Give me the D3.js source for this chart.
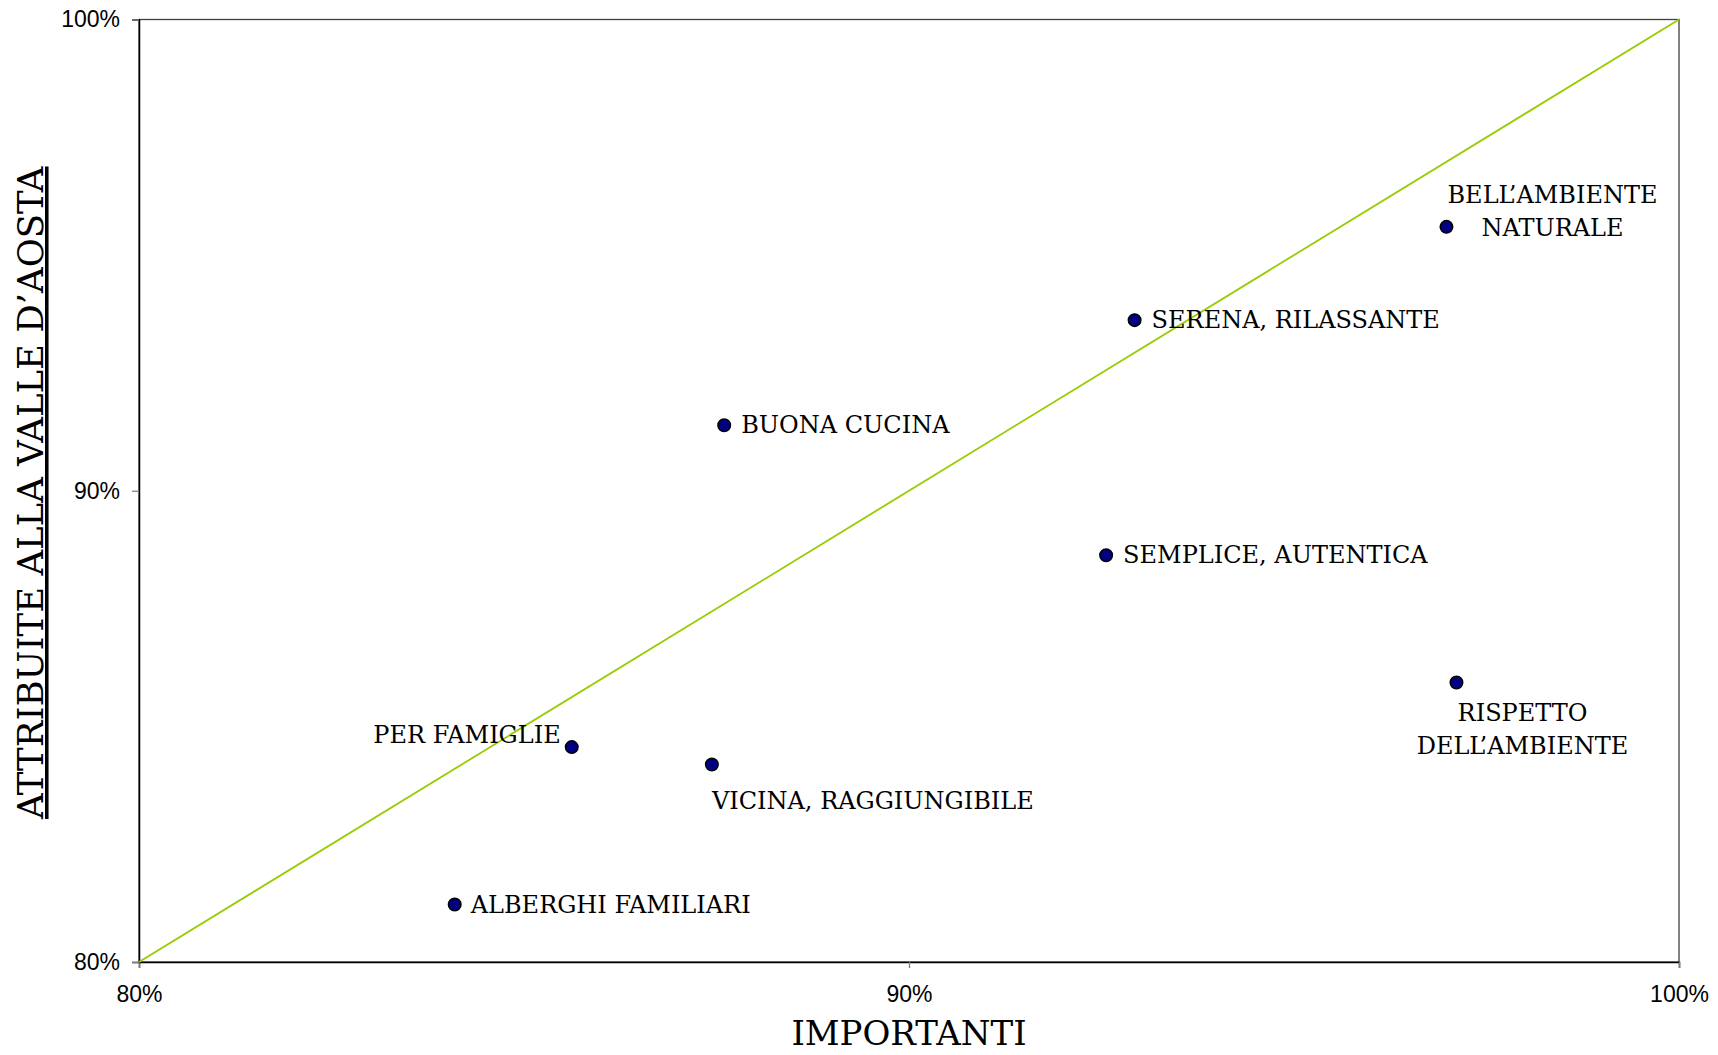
<!DOCTYPE html>
<html>
<head>
<meta charset="utf-8">
<script src="https://cdn.jsdelivr.net/npm/d3@7"></script>
<style>
  body { margin: 0; background: #fff; }
  .tick text { font-family: "Liberation Sans", Arial, sans-serif; font-size: 23px; fill: #000; }
  .lbl { font-family: "DejaVu Serif", serif; font-size: 24px; fill: #000; }
</style>
</head>
<body>
<script>
var width = 1718;
var height = 1055;
var margin = {top: 19.5, right: 39, bottom: 93, left: 139};
var w = width - margin.left - margin.right;
var h = height - margin.top - margin.bottom;

// values (percent)
var names = ["BELL\u2019AMBIENTE NATURALE", "SERENA, RILASSANTE", "BUONA CUCINA", "SEMPLICE, AUTENTICA",
             "RISPETTO DELL\u2019AMBIENTE", "PER FAMIGLIE", "VICINA, RAGGIUNGIBILE", "ALBERGHI FAMILIARI"];
var importanti = [96.98, 92.93, 87.60, 92.56, 97.11, 85.62, 87.44, 84.10];
var attribuite = [95.60, 93.62, 91.39, 88.63, 85.93, 84.56, 84.19, 81.22];
var xTicks = [80, 90, 100];
var yTicks = [80, 90, 100];
var diagonal = [80, 100];

// how each label sits next to its dot
var labelLines = [["BELL\u2019AMBIENTE", "NATURALE"], ["SERENA, RILASSANTE"], ["BUONA CUCINA"], ["SEMPLICE, AUTENTICA"],
                  ["RISPETTO", "DELL\u2019AMBIENTE"], ["PER FAMIGLIE"], ["VICINA, RAGGIUNGIBILE"], ["ALBERGHI FAMILIARI"]];
var labelPlace = [
  {dx: 106, dy: -24, anchor: "middle"},
  {dx: 17, dy: 8, anchor: "start"},
  {dx: 17, dy: 8, anchor: "start"},
  {dx: 17, dy: 8, anchor: "start"},
  {dx: 66, dy: 38, anchor: "middle"},
  {dx: -11, dy: -4, anchor: "end"},
  {dx: 0, dy: 44, anchor: "start"},
  {dx: 16, dy: 8, anchor: "start"}
];

var svg = d3.select("body").append("svg")
    .attr("width", width)
    .attr("height", height)
  .append("g")
    .attr("transform", "translate(" + margin.left + "," + margin.top + ")");

var x = d3.scaleLinear().domain([80, 100]).range([0, w]);
var y = d3.scaleLinear().domain([80, 100]).range([h, 0]);

// plot frame
svg.append("rect")
    .attr("width", w).attr("height", h)
    .attr("fill", "none")
    .attr("stroke", "#404040")
    .attr("stroke-width", 1.3);

var xAxis = d3.axisBottom(x).tickValues(xTicks).tickSize(6).tickPadding(18)
    .tickFormat(function(d) { return d + "%"; });
var yAxis = d3.axisLeft(y).tickValues(yTicks).tickSize(7).tickPadding(12)
    .tickFormat(function(d) { return d + "%"; });

var gx = svg.append("g").attr("transform", "translate(0," + h + ")").call(xAxis);
var gy = svg.append("g").call(yAxis);
[gx, gy].forEach(function(g) {
  g.select(".domain").attr("stroke", "#000").attr("stroke-width", 1.5);
  g.selectAll(".tick line").attr("stroke", "#808080").attr("stroke-width", 1.3);
  g.selectAll(".tick text").attr("font-family", null).attr("font-size", null);
});
gy.selectAll(".tick text").attr("dy", "0.32em");

// diagonal reference line
svg.append("line")
    .attr("x1", x(diagonal[0])).attr("y1", y(diagonal[0]))
    .attr("x2", x(diagonal[1])).attr("y2", y(diagonal[1]))
    .attr("stroke", "#99cc00")
    .attr("stroke-width", 1.8);

var pts = names.map(function(n, i) {
  return {name: n, x: importanti[i], y: attribuite[i], lines: labelLines[i], place: labelPlace[i]};
});

svg.selectAll("circle.pt")
    .data(pts)
  .enter().append("circle")
    .attr("class", "pt")
    .attr("cx", function(d) { return x(d.x); })
    .attr("cy", function(d) { return y(d.y); })
    .attr("r", 6.3)
    .attr("fill", "#000080")
    .attr("stroke", "#000")
    .attr("stroke-width", 1.4);

var lbl = svg.selectAll("text.lbl")
    .data(pts)
  .enter().append("text")
    .attr("class", "lbl")
    .attr("text-anchor", function(d) { return d.place.anchor; })
    .attr("transform", function(d) {
      return "translate(" + (x(d.x) + d.place.dx) + "," + (y(d.y) + d.place.dy) + ")";
    });

lbl.selectAll("tspan")
    .data(function(d) { return d.lines; })
  .enter().append("tspan")
    .attr("x", 0)
    .attr("y", function(d, i) { return i * 33.5; })
    .text(function(d) { return d; });

// axis titles
svg.append("text")
    .attr("x", w / 2)
    .attr("y", h + 83)
    .attr("text-anchor", "middle")
    .style("font-family", "DejaVu Serif, serif")
    .style("font-size", "34px")
    .text("IMPORTANTI");

svg.append("text")
    .attr("transform", "translate(" + (43 - margin.left) + "," + (h / 2 + 2) + ") rotate(-90)")
    .attr("text-anchor", "middle")
    .style("font-family", "DejaVu Serif, serif")
    .style("font-size", "35.5px")
    .style("text-decoration", "underline")
    .text("ATTRIBUITE ALLA VALLE D\u2019AOSTA");
</script>
</body>
</html>
